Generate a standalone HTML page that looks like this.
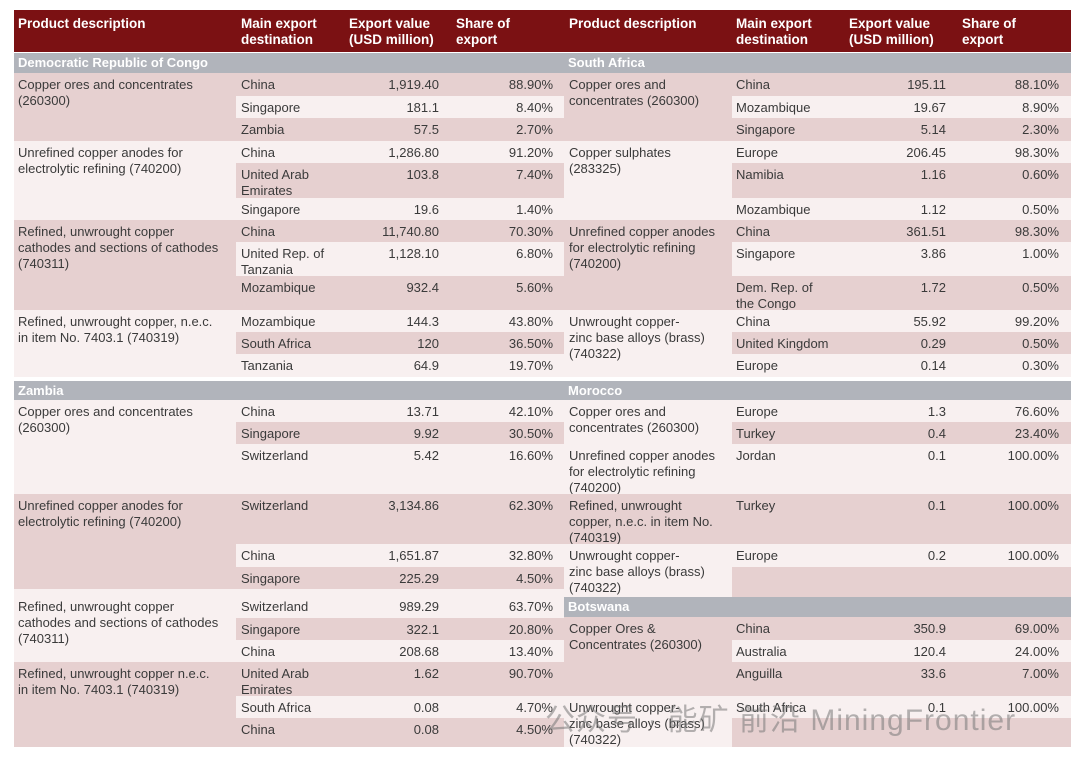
<!DOCTYPE html>
<html><head><meta charset="utf-8"><style>
body{margin:0;width:1080px;height:764px;background:#fff;position:relative;overflow:hidden;font-family:"Liberation Sans","Noto Sans CJK SC",sans-serif;font-size:13px;color:#3a3a3a}
div{position:absolute;box-sizing:border-box}
.P{background:#e6d0d0}.L{background:#f8f0f0}
.h{top:10px;height:42px;left:14px;width:1057px;background:#7b1113}
.ht{color:#fff;font-weight:bold;top:16px;line-height:16px;font-size:13.5px}
.bar{background:#b1b4bb;color:#fff;font-weight:bold;height:20px;line-height:20px;padding-left:4px}
.lr{left:236px;width:328px}.rr{left:732px;width:339px}
.ld{left:14px;width:222px;padding:4px 0 0 4px;line-height:16px}.rd{left:564px;width:168px;padding:4px 0 0 5px;line-height:16px}
.lr span,.rr span{position:absolute;top:4px;line-height:16px}
.lr .a{left:5px}.lr .v{right:125px}.lr .s{right:11px}
.rr .a{left:4px}.rr .v{right:125px}.rr .s{right:12px}
</style></head><body>
<div class="h"></div>
<div class="ht" style="left:18px">Product description</div>
<div class="ht" style="left:241px">Main export<br>destination</div>
<div class="ht" style="left:349px">Export value<br>(USD million)</div>
<div class="ht" style="left:456px">Share of<br>export</div>
<div class="ht" style="left:569px">Product description</div>
<div class="ht" style="left:736px">Main export<br>destination</div>
<div class="ht" style="left:849px">Export value<br>(USD million)</div>
<div class="ht" style="left:962px">Share of<br>export</div>

<!-- LEFT -->
<div class="bar" style="left:14px;width:550px;top:53px">Democratic Republic of Congo</div>
<div class="ld P" style="top:73px;height:68px">Copper ores and concentrates<br>(260300)</div>
<div class="lr P" style="top:73px;height:23px"><span class="a">China</span><span class="v">1,919.40</span><span class="s">88.90%</span></div>
<div class="lr L" style="top:96px;height:22px"><span class="a">Singapore</span><span class="v">181.1</span><span class="s">8.40%</span></div>
<div class="lr P" style="top:118px;height:23px"><span class="a">Zambia</span><span class="v">57.5</span><span class="s">2.70%</span></div>
<div class="ld L" style="top:141px;height:79px">Unrefined copper anodes for<br>electrolytic refining (740200)</div>
<div class="lr L" style="top:141px;height:22px"><span class="a">China</span><span class="v">1,286.80</span><span class="s">91.20%</span></div>
<div class="lr P" style="top:163px;height:35px"><span class="a">United Arab<br>Emirates</span><span class="v">103.8</span><span class="s">7.40%</span></div>
<div class="lr L" style="top:198px;height:22px"><span class="a">Singapore</span><span class="v">19.6</span><span class="s">1.40%</span></div>
<div class="ld P" style="top:220px;height:90px">Refined, unwrought copper<br>cathodes and sections of cathodes<br>(740311)</div>
<div class="lr P" style="top:220px;height:22px"><span class="a">China</span><span class="v">11,740.80</span><span class="s">70.30%</span></div>
<div class="lr L" style="top:242px;height:34px"><span class="a">United Rep. of<br>Tanzania</span><span class="v">1,128.10</span><span class="s">6.80%</span></div>
<div class="lr P" style="top:276px;height:34px"><span class="a">Mozambique</span><span class="v">932.4</span><span class="s">5.60%</span></div>
<div class="ld L" style="top:310px;height:67px">Refined, unwrought copper, n.e.c.<br>in item No. 7403.1 (740319)</div>
<div class="lr L" style="top:310px;height:22px"><span class="a">Mozambique</span><span class="v">144.3</span><span class="s">43.80%</span></div>
<div class="lr P" style="top:332px;height:22px"><span class="a">South Africa</span><span class="v">120</span><span class="s">36.50%</span></div>
<div class="lr L" style="top:354px;height:23px"><span class="a">Tanzania</span><span class="v">64.9</span><span class="s">19.70%</span></div>

<div class="bar" style="left:14px;width:550px;top:381px;height:19px;line-height:19px">Zambia</div>
<div class="ld L" style="top:400px;height:94px">Copper ores and concentrates<br>(260300)</div>
<div class="lr L" style="top:400px;height:22px"><span class="a">China</span><span class="v">13.71</span><span class="s">42.10%</span></div>
<div class="lr P" style="top:422px;height:22px"><span class="a">Singapore</span><span class="v">9.92</span><span class="s">30.50%</span></div>
<div class="lr L" style="top:444px;height:50px"><span class="a">Switzerland</span><span class="v">5.42</span><span class="s">16.60%</span></div>
<div class="ld P" style="top:494px;height:95px">Unrefined copper anodes for<br>electrolytic refining (740200)</div>
<div class="lr P" style="top:494px;height:50px"><span class="a">Switzerland</span><span class="v">3,134.86</span><span class="s">62.30%</span></div>
<div class="lr L" style="top:544px;height:23px"><span class="a">China</span><span class="v">1,651.87</span><span class="s">32.80%</span></div>
<div class="lr P" style="top:567px;height:22px"><span class="a">Singapore</span><span class="v">225.29</span><span class="s">4.50%</span></div>
<div class="ld L" style="top:589px;height:73px;padding-top:10px">Refined, unwrought copper<br>cathodes and sections of cathodes<br>(740311)</div>
<div class="lr L" style="top:589px;height:29px;"><span class="a" style="top:10px">Switzerland</span><span class="v" style="top:10px">989.29</span><span class="s" style="top:10px">63.70%</span></div>
<div class="lr P" style="top:618px;height:22px"><span class="a">Singapore</span><span class="v">322.1</span><span class="s">20.80%</span></div>
<div class="lr L" style="top:640px;height:22px"><span class="a">China</span><span class="v">208.68</span><span class="s">13.40%</span></div>
<div class="ld P" style="top:662px;height:85px">Refined, unwrought copper n.e.c.<br>in item No. 7403.1 (740319)</div>
<div class="lr P" style="top:662px;height:34px"><span class="a">United Arab<br>Emirates</span><span class="v">1.62</span><span class="s">90.70%</span></div>
<div class="lr L" style="top:696px;height:22px"><span class="a">South Africa</span><span class="v">0.08</span><span class="s">4.70%</span></div>
<div class="lr P" style="top:718px;height:29px"><span class="a">China</span><span class="v">0.08</span><span class="s">4.50%</span></div>

<!-- RIGHT -->
<div class="bar" style="left:564px;width:507px;top:53px">South Africa</div>
<div class="rd P" style="top:73px;height:68px">Copper ores and<br>concentrates (260300)</div>
<div class="rr P" style="top:73px;height:23px"><span class="a">China</span><span class="v">195.11</span><span class="s">88.10%</span></div>
<div class="rr L" style="top:96px;height:22px"><span class="a">Mozambique</span><span class="v">19.67</span><span class="s">8.90%</span></div>
<div class="rr P" style="top:118px;height:23px"><span class="a">Singapore</span><span class="v">5.14</span><span class="s">2.30%</span></div>
<div class="rd L" style="top:141px;height:79px">Copper sulphates<br>(283325)</div>
<div class="rr L" style="top:141px;height:22px"><span class="a">Europe</span><span class="v">206.45</span><span class="s">98.30%</span></div>
<div class="rr P" style="top:163px;height:35px"><span class="a">Namibia</span><span class="v">1.16</span><span class="s">0.60%</span></div>
<div class="rr L" style="top:198px;height:22px"><span class="a">Mozambique</span><span class="v">1.12</span><span class="s">0.50%</span></div>
<div class="rd P" style="top:220px;height:90px">Unrefined copper anodes<br>for electrolytic refining<br>(740200)</div>
<div class="rr P" style="top:220px;height:22px"><span class="a">China</span><span class="v">361.51</span><span class="s">98.30%</span></div>
<div class="rr L" style="top:242px;height:34px"><span class="a">Singapore</span><span class="v">3.86</span><span class="s">1.00%</span></div>
<div class="rr P" style="top:276px;height:34px"><span class="a">Dem. Rep. of<br>the Congo</span><span class="v">1.72</span><span class="s">0.50%</span></div>
<div class="rd L" style="top:310px;height:67px">Unwrought copper-<br>zinc base alloys (brass)<br>(740322)</div>
<div class="rr L" style="top:310px;height:22px"><span class="a">China</span><span class="v">55.92</span><span class="s">99.20%</span></div>
<div class="rr P" style="top:332px;height:22px"><span class="a">United Kingdom</span><span class="v">0.29</span><span class="s">0.50%</span></div>
<div class="rr L" style="top:354px;height:23px"><span class="a">Europe</span><span class="v">0.14</span><span class="s">0.30%</span></div>

<div class="bar" style="left:564px;width:507px;top:381px;height:19px;line-height:19px">Morocco</div>
<div class="rd L" style="top:400px;height:44px">Copper ores and<br>concentrates (260300)</div>
<div class="rr L" style="top:400px;height:22px"><span class="a">Europe</span><span class="v">1.3</span><span class="s">76.60%</span></div>
<div class="rr P" style="top:422px;height:22px"><span class="a">Turkey</span><span class="v">0.4</span><span class="s">23.40%</span></div>
<div class="rd L" style="top:444px;height:50px">Unrefined copper anodes<br>for electrolytic refining<br>(740200)</div>
<div class="rr L" style="top:444px;height:50px"><span class="a">Jordan</span><span class="v">0.1</span><span class="s">100.00%</span></div>
<div class="rd P" style="top:494px;height:50px">Refined, unwrought<br>copper, n.e.c. in item No.<br>(740319)</div>
<div class="rr P" style="top:494px;height:50px"><span class="a">Turkey</span><span class="v">0.1</span><span class="s">100.00%</span></div>
<div class="rd L" style="top:544px;height:53px">Unwrought copper-<br>zinc base alloys (brass)<br>(740322)</div>
<div class="rr L" style="top:544px;height:23px"><span class="a">Europe</span><span class="v">0.2</span><span class="s">100.00%</span></div>
<div class="rr P" style="top:567px;height:30px"></div>

<div class="bar" style="left:564px;width:507px;top:597px">Botswana</div>
<div class="rd P" style="top:617px;height:79px">Copper Ores &amp;<br>Concentrates (260300)</div>
<div class="rr P" style="top:617px;height:23px"><span class="a">China</span><span class="v">350.9</span><span class="s">69.00%</span></div>
<div class="rr L" style="top:640px;height:22px"><span class="a">Australia</span><span class="v">120.4</span><span class="s">24.00%</span></div>
<div class="rr P" style="top:662px;height:34px"><span class="a">Anguilla</span><span class="v">33.6</span><span class="s">7.00%</span></div>
<div class="rd L" style="top:696px;height:51px">Unwrought copper-<br>zinc base alloys (brass)<br>(740322)</div>
<div class="rr L" style="top:696px;height:22px"><span class="a">South Africa</span><span class="v">0.1</span><span class="s">100.00%</span></div>
<div class="rr P" style="top:718px;height:29px"></div>

<div style="left:545px;top:701px;font-size:30px;line-height:40px;letter-spacing:1px;color:rgba(120,120,120,0.55);white-space:nowrap">公众号 · 能矿 前沿 MiningFrontier</div>
</body></html>
